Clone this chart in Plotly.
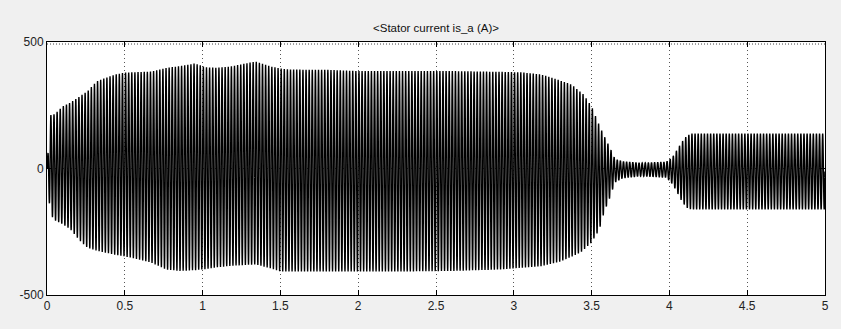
import numpy as np
import plotly.graph_objects as go

# ---- data ----
title_text = "<Stator current is_a (A)>"
freq_hz = 50.0  # supply frequency of the stator current

# upper envelope (peak values, A)
t_upper = [0.00, 0.02, 0.05, 0.10, 0.15, 0.21, 0.26, 0.32, 0.43, 0.50, 0.67, 0.77,
           0.86, 0.95, 1.02, 1.09, 1.18, 1.34, 1.44, 1.50, 1.57, 1.80, 2.00, 2.30,
           2.60, 2.92, 3.05, 3.17, 3.24, 3.37, 3.45, 3.50, 3.55, 3.58, 3.62, 3.65,
           3.70, 3.82, 3.98, 4.02, 4.05, 4.08, 4.11, 4.14, 4.50, 5.00]
i_upper = [0, 210, 215, 245, 260, 285, 305, 345, 370, 379, 383, 398,
           405, 415, 400, 398, 403, 423, 403, 395, 391, 390, 385, 385,
           385, 382, 380, 372, 360, 332, 292, 245, 170, 130, 80, 38,
           28, 22, 26, 45, 75, 105, 128, 138, 138, 138]

# lower envelope (negative peak values, A)
t_lower = [0.00, 0.02, 0.05, 0.10, 0.15, 0.21, 0.26, 0.32, 0.43, 0.50, 0.67, 0.77,
           0.86, 0.95, 1.02, 1.09, 1.18, 1.34, 1.44, 1.50, 1.57, 1.80, 2.00, 2.30,
           2.60, 2.92, 3.05, 3.17, 3.30, 3.43, 3.50, 3.55, 3.58, 3.62, 3.65, 3.70,
           3.82, 3.98, 4.02, 4.05, 4.08, 4.11, 4.14, 4.50, 5.00]
i_lower = [0, -180, -205, -220, -240, -285, -313, -325, -340, -347, -372, -400,
           -405, -402, -398, -391, -385, -379, -395, -407, -407, -407, -407, -407,
           -405, -399, -392, -387, -368, -332, -292, -241, -174, -111, -55, -38,
           -30, -36, -62, -95, -130, -155, -162, -162, -162]

x_ticks = [0, 0.5, 1, 1.5, 2, 2.5, 3, 3.5, 4, 4.5, 5]
x_ticklabels = ["0", "0.5", "1", "1.5", "2", "2.5", "3", "3.5", "4", "4.5", "5"]
y_ticks = [-500, 0, 500]
y_ticklabels = ["-500", "0", "500"]

# ---- build the 50 Hz waveform inside the read envelope ----
t = np.linspace(0, 5, 5 * int(freq_hz) * 24 + 1)
up = np.interp(t, t_upper, i_upper)
lo = np.interp(t, t_lower, i_lower)
mid = (up + lo) / 2
half = (up - lo) / 2
current = mid + half * np.sin(2 * np.pi * freq_hz * t)

fig = go.Figure()
fig.add_trace(go.Scatter(x=t, y=current, mode="lines",
                         line=dict(color="black", width=1.4, simplify=False),
                         hoverinfo="skip", showlegend=False))

axis_common = dict(showline=True, linecolor="black", linewidth=1, mirror="ticks",
                   ticks="inside", ticklen=5, tickcolor="black", zeroline=False,
                   showgrid=True, gridcolor="#555555", griddash="1px,3px", gridwidth=1,
                   tickfont=dict(family="Liberation Sans, Arial, sans-serif", size=12, color="#222222"))

fig.update_layout(
    width=841, height=329,
    margin=dict(l=47, r=16, t=42, b=34),
    paper_bgcolor="#f0f0f0",
    plot_bgcolor="white",
    title=dict(text=title_text, x=(47 + 825) / 2 / 841, xanchor="center",
               y=1 - 28 / 329, yanchor="middle",
               font=dict(family="Liberation Sans, Arial, sans-serif", size=11.5, color="#111111")),
    xaxis=dict(range=[0, 5], tickvals=x_ticks, ticktext=x_ticklabels, **axis_common),
    yaxis=dict(range=[-500, 500], tickvals=y_ticks, ticktext=y_ticklabels, **axis_common),
    shapes=[dict(type="line", xref="paper", yref="paper", x0=0, x1=1, y0=0.992, y1=0.992,
                 line=dict(color="#444444", width=1, dash="1px,2px"))],
)

fig.write_html("out.html")
